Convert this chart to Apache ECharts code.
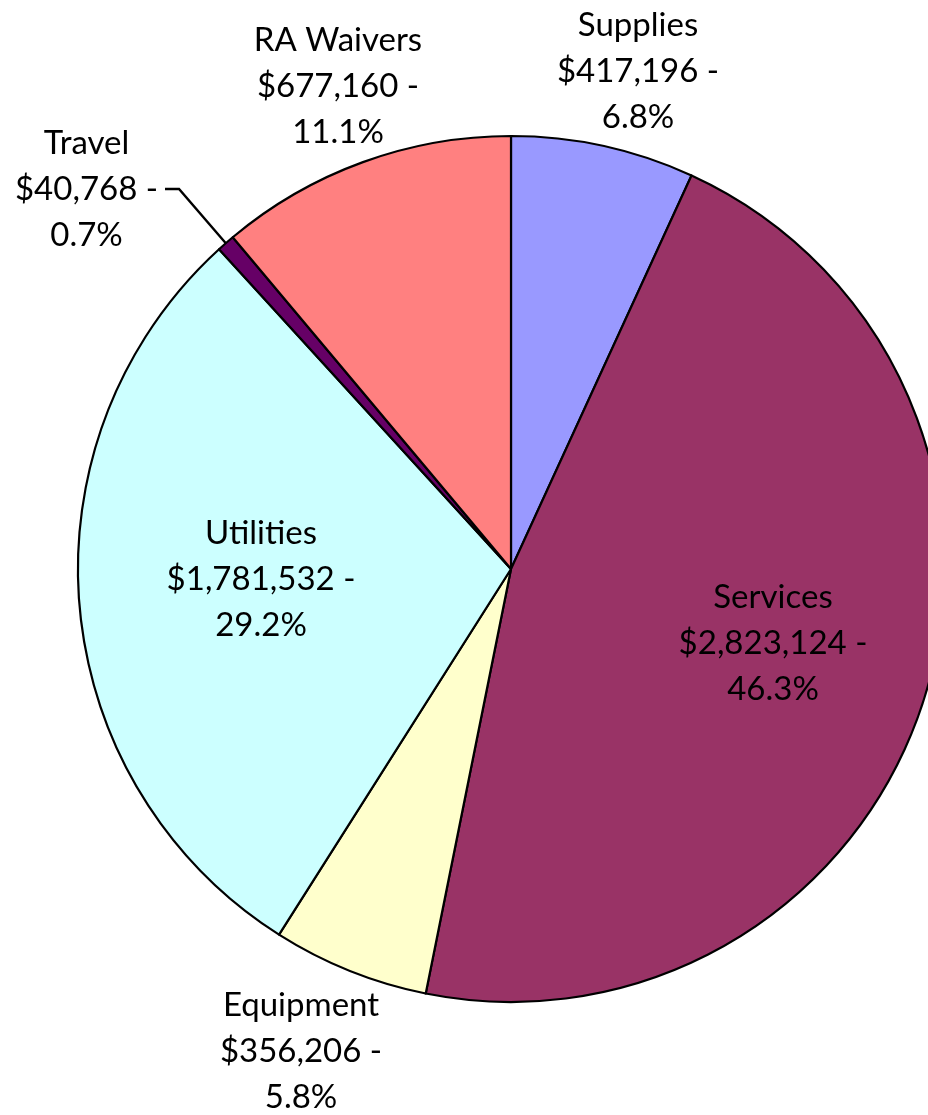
<!DOCTYPE html>
<html>
<head>
<meta charset="utf-8">
<title>Expenses by Category</title>
<script src="https://cdn.jsdelivr.net/npm/echarts@6/dist/echarts.min.js"></script>
<style>
  html, body { margin: 0; padding: 0; background: #ffffff; }
  #chart { width: 928px; height: 1115px; }
</style>
</head>
<body>
<div id="chart"></div>
<script>
// Expense categories, clockwise from twelve o'clock
const categories = ['Supplies', 'Services', 'Equipment', 'Utilities', 'Travel', 'RA Waivers'];
const amounts = [417196, 2823124, 356206, 1781532, 40768, 677160];

// Slice fills
const sliceColors = ['#9999FF', '#993366', '#FFFFCC', '#CCFFFF', '#660066', '#FF8080'];

// Where each label block is centred on the page
const labelAnchors = {
  'Supplies':   [638, 71],
  'Services':   [773, 643],
  'Equipment':  [301, 1051],
  'Utilities':  [261, 579],
  'Travel':     [90, 189],
  'RA Waivers': [338, 86]
};

const total = amounts.reduce((s, v) => s + v, 0);

const pieData = categories.map((name, i) => ({
  name: name,
  value: amounts[i],
  itemStyle: { color: sliceColors[i] },
  // Travel is the only slice whose label hangs off a leader line
  label: name === 'Travel' ? { padding: [0, 7, 0, 0] } : {},
  labelLine: { show: name === 'Travel' }
}));

const chart = echarts.init(document.getElementById('chart'), null, { renderer: 'canvas' });

chart.setOption({
  backgroundColor: '#ffffff',
  animation: false,
  series: [{
    type: 'pie',
    center: [511, 569],
    radius: 433,
    startAngle: 90,
    clockwise: true,
    avoidLabelOverlap: false,
    emphasis: { disabled: true },
    itemStyle: { borderColor: '#000000', borderWidth: 2.2 },
    label: {
      show: true,
      position: 'outside',
      color: '#000000',
      fontFamily: 'Lato, "Open Sans", sans-serif',
      fontSize: 33,
      lineHeight: 46,
      align: 'center',
      formatter: p => p.name + '\n$' + echarts.format.addCommas(p.value) + ' -\n' +
        (p.value / total * 100).toFixed(1) + '%'
    },
    labelLine: {
      show: false,
      length: 60,
      length2: 14,
      smooth: false,
      lineStyle: { color: '#000000', width: 2.4 }
    },
    labelLayout: function (params) {
      const a = labelAnchors[categories[params.dataIndex]];
      return { x: a[0], y: a[1], align: 'center', verticalAlign: 'middle' };
    },
    data: pieData
  }]
});
</script>
</body>
</html>
